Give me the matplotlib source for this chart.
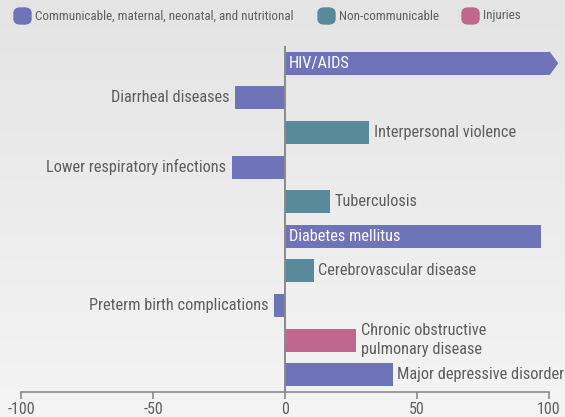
import numpy as np
import matplotlib
matplotlib.use('Agg')
import matplotlib.pyplot as plt
from matplotlib.patches import FancyBboxPatch, Polygon

plt.rcParams['font.family'] = ['Roboto Condensed', 'Roboto', 'DejaVu Sans']

# Data; HIV/AIDS runs off the right edge of the scale
causes = ['HIV/AIDS', 'Diarrheal diseases', 'Interpersonal violence',
          'Lower respiratory infections', 'Tuberculosis', 'Diabetes mellitus',
          'Cerebrovascular disease', 'Preterm birth complications',
          'Chronic obstructive\npulmonary disease', 'Major depressive disorder']
values = [130, -19, 32, -20, 17, 97, 11, -4, 27, 41]
groups = ['comm', 'comm', 'noncomm', 'comm', 'noncomm', 'comm',
          'noncomm', 'comm', 'inj', 'comm']
inside_label = [True, False, False, False, False, True, False, False, False, False]

group_names = ['Communicable, maternal, neonatal, and nutritional', 'Non-communicable', 'Injuries']
group_keys = ['comm', 'noncomm', 'inj']
colors = {'comm': '#6f73b8', 'noncomm': '#588a9c', 'inj': '#c1678e'}
xticks = [-100, -50, 0, 50, 100]

text_color = '#5e5e5e'
W, H = 565, 417
fig = plt.figure(figsize=(W / 100, H / 100), dpi=100)

# background gradient
bg = fig.add_axes([0, 0, 1, 1], zorder=-10)
grad = np.linspace(0, 1, 256).reshape(-1, 1)
bg.imshow(grad, aspect='auto', cmap=matplotlib.colors.LinearSegmentedColormap.from_list(
    'bg', ['#e4e4e4', '#f4f4f4']), extent=[0, 1, 0, 1], origin='upper')
bg.axis('off')

ax = fig.add_axes([21 / W, 25 / H, 528 / W, 346 / H])
ax.set_facecolor('none')
xmax = 100
ax.set_xlim(-100, xmax)
ax.set_ylim(9.5, -0.5)

fs = 11.8
bar_h = 0.66
for i, (name, v, g, inside) in enumerate(zip(causes, values, groups, inside_label)):
    c = colors[g]
    vv = min(v, xmax)
    ax.barh(i, vv, height=bar_h, color=c, zorder=2)
    if v > xmax:
        ax.add_patch(Polygon([[xmax, i - bar_h / 2], [xmax + 3.2, i], [xmax, i + bar_h / 2]],
                             closed=True, color=c, clip_on=False, zorder=2))
    if inside:
        ax.text(1.5, i, name, color='white', va='center', ha='left', fontsize=fs, zorder=4)
    elif v < 0:
        ax.text(vv - 2.2, i, name, color=text_color, va='center', ha='right', fontsize=fs)
    else:
        ax.text(vv + 1.6, i, name, color=text_color, va='center', ha='left', fontsize=fs,
                linespacing=1.3)

ax.axvline(0, color='#8a8a8a', lw=1.4, zorder=3)

for s in ['top', 'right', 'left']:
    ax.spines[s].set_visible(False)
ax.spines['bottom'].set_color('#8a8a8a')
ax.spines['bottom'].set_linewidth(1.2)
ax.set_yticks([])
ax.set_xticks(xticks)
ax.set_xticklabels([str(t) for t in xticks])
ax.tick_params(axis='x', colors='#8a8a8a', labelcolor=text_color, labelsize=11.5,
               length=5, width=1.2, pad=2)

# legend
leg_x = [14, 318, 462]
for x0, key, name in zip(leg_x, group_keys, group_names):
    fig.patches.append(FancyBboxPatch((x0 / W, (H - 24) / H), 17 / W, 16 / H,
                                      boxstyle='round,pad=0,rounding_size=0.012',
                                      transform=fig.transFigure, color=colors[key]))
    fig.text((x0 + 21) / W, (H - 16) / H, name, color=text_color, fontsize=9.4,
             va='center', ha='left')

fig.savefig('out.png', dpi=100)
